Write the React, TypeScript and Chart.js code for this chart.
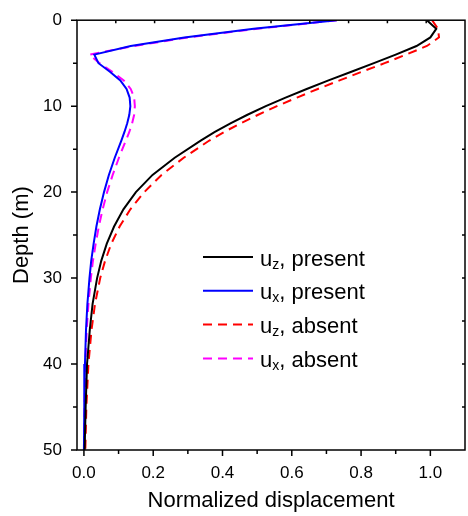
import React, { useEffect, useRef } from 'react';
import { Chart, registerables } from 'chart.js';

Chart.register(...registerables);

const FAMILY = "'Liberation Sans', Arial, Helvetica, sans-serif";

// Depth (m)
const depths = [0, 1, 2, 3, 4, 5, 6, 7, 8, 9, 10, 11, 12, 13, 14, 16, 18, 20, 22, 24, 26, 28, 30, 33, 36, 40, 45, 50];

// Normalized displacement series
const uzPresent = [0.99, 1.017, 1.0, 0.96, 0.9, 0.837, 0.772, 0.706, 0.643, 0.582, 0.525, 0.472, 0.423, 0.378, 0.337, 0.262, 0.198, 0.15, 0.114, 0.087, 0.066, 0.05, 0.038, 0.025, 0.017, 0.009, 0.005, 0.002];
const uxPresent = [0.73, 0.49, 0.29, 0.135, 0.03, 0.042, 0.075, 0.105, 0.123, 0.132, 0.134, 0.131, 0.125, 0.117, 0.108, 0.089, 0.072, 0.058, 0.046, 0.036, 0.028, 0.021, 0.016, 0.01, 0.006, 0.003, 0.001, 0.0];
const uzAbsent = [1.005, 1.022, 1.025, 0.99, 0.93, 0.868, 0.802, 0.738, 0.675, 0.615, 0.557, 0.503, 0.452, 0.405, 0.362, 0.288, 0.224, 0.174, 0.134, 0.103, 0.079, 0.061, 0.047, 0.032, 0.022, 0.013, 0.007, 0.004];
const uxAbsent = [0.73, 0.5, 0.3, 0.145, 0.016, 0.045, 0.082, 0.115, 0.135, 0.145, 0.147, 0.145, 0.139, 0.131, 0.121, 0.101, 0.083, 0.067, 0.054, 0.043, 0.034, 0.026, 0.02, 0.013, 0.008, 0.004, 0.002, 0.001];

const seriesLabels = ['u_z, present', 'u_x, present', 'u_z, absent', 'u_x, absent'];
const seriesColors = ['#000000', '#0000ff', '#ff0000', '#ff00ff'];

// Axes
const xMin = -0.02;
const xMax = 1.1;
const yMin = 0;
const yMax = 50;
const xTickLabels = [0, 0.2, 0.4, 0.6, 0.8, 1.0];
const xMinorTicks = [0.1, 0.3, 0.5, 0.7, 0.9];
const yTickLabels = [0, 10, 20, 30, 40, 50];
const yMinorTicks = [5, 15, 25, 35, 45];
const topTicks = [1, 2, 3, 4, 5, 6, 7, 8, 9];
const rightTicks = [5, 10, 15, 20, 25, 30, 35, 40, 45];

const DASH = [9, 6];

const framePlugin = {
  id: 'frameTicks',
  afterDatasetsDraw(chart: any) {
    const { ctx, chartArea: a, scales } = chart;
    ctx.save();
    ctx.strokeStyle = '#000';
    ctx.lineWidth = 1.5;
    ctx.setLineDash([]);
    ctx.beginPath();
    xTickLabels.forEach((v) => {
      const px = scales.x.getPixelForValue(v);
      ctx.moveTo(px, a.bottom);
      ctx.lineTo(px, a.bottom + 6);
    });
    xMinorTicks.forEach((v) => {
      const px = scales.x.getPixelForValue(v);
      ctx.moveTo(px, a.bottom);
      ctx.lineTo(px, a.bottom + 4);
    });
    yTickLabels.forEach((v) => {
      const py = scales.y.getPixelForValue(v);
      ctx.moveTo(a.left, py);
      ctx.lineTo(a.left - 6, py);
    });
    yMinorTicks.forEach((v) => {
      const py = scales.y.getPixelForValue(v);
      ctx.moveTo(a.left, py);
      ctx.lineTo(a.left - 4, py);
    });
    topTicks.forEach((v) => {
      const px = scales.x2.getPixelForValue(v);
      ctx.moveTo(px, a.top);
      ctx.lineTo(px, a.top + 3);
    });
    rightTicks.forEach((v) => {
      const py = scales.y2.getPixelForValue(v);
      ctx.moveTo(a.right, py);
      ctx.lineTo(a.right - 3, py);
    });
    ctx.stroke();
    ctx.strokeRect(a.left, a.top, a.right - a.left, a.bottom - a.top);
    ctx.restore();
  },
};

const legendPlugin = {
  id: 'subscriptLegend',
  afterDraw(chart: any) {
    const ctx = chart.ctx;
    const x0 = 203;
    const x1 = 253;
    const top = 257;
    const step = 33.8;
    chart.data.datasets.forEach((ds: any, i: number) => {
      const y = top + i * step;
      ctx.save();
      ctx.strokeStyle = ds.borderColor;
      ctx.lineWidth = ds.borderWidth;
      ctx.setLineDash(ds.borderDash || []);
      ctx.beginPath();
      ctx.moveTo(x0, y);
      ctx.lineTo(x1, y);
      ctx.stroke();
      ctx.setLineDash([]);
      const parts = String(ds.label).split('_');
      const main = parts[0];
      const sub = parts[1].charAt(0);
      const tail = parts[1].slice(1);
      ctx.fillStyle = '#000';
      ctx.textBaseline = 'alphabetic';
      ctx.textAlign = 'left';
      const base = y + 8.5;
      let x = 260;
      ctx.font = `22px ${FAMILY}`;
      ctx.fillText(main, x, base);
      x += ctx.measureText(main).width;
      ctx.font = `14px ${FAMILY}`;
      ctx.fillText(sub, x, base + 3);
      x += ctx.measureText(sub).width;
      ctx.font = `22px ${FAMILY}`;
      ctx.fillText(tail, x, base);
      ctx.restore();
    });
  },
};

export default function App() {
  const ref = useRef<HTMLCanvasElement>(null);

  useEffect(() => {
    document.body.style.margin = '0';
    const canvas = ref.current;
    if (!canvas) return;
    const seriesValues = [uzPresent, uxPresent, uzAbsent, uxAbsent];
    const datasets = seriesValues.map((vals, i) => ({
      label: seriesLabels[i],
      data: depths.map((d, j) => ({ x: vals[j], y: d })),
      borderColor: seriesColors[i],
      backgroundColor: seriesColors[i],
      borderWidth: 2,
      borderDash: i >= 2 ? DASH : [],
      showLine: true,
      pointRadius: 0,
      tension: 0,
      fill: false,
    }));

    const chart = new Chart(canvas, {
      type: 'scatter',
      data: { datasets },
      options: {
        responsive: false,
        animation: false,
        layout: { padding: { top: 12, right: 3, left: 0, bottom: 0 } },
        plugins: {
          legend: { display: false },
          tooltip: { enabled: false },
        },
        scales: {
          x: {
            type: 'linear',
            position: 'bottom',
            min: xMin,
            max: xMax,
            afterBuildTicks: (s: any) => {
              s.ticks = xTickLabels.map((v) => ({ value: v }));
            },
            afterFit: (s: any) => {
              s.height = 66;
            },
            grid: { display: true, drawOnChartArea: false, drawTicks: true, tickLength: 5, color: 'rgba(0,0,0,0)' },
            border: { display: false },
            ticks: {
              padding: 8,
              color: '#000',
              autoSkip: false,
              maxRotation: 0,
              font: { family: FAMILY, size: 17 },
              callback: (v: any) => Number(v).toFixed(1),
            },
            title: {
              display: true,
              text: 'Normalized displacement',
              color: '#000',
              font: { family: FAMILY, size: 22 },
              padding: { top: 0, bottom: 2 },
            },
          },
          y: {
            type: 'linear',
            position: 'left',
            reverse: true,
            min: yMin,
            max: yMax,
            afterBuildTicks: (s: any) => {
              s.ticks = yTickLabels.map((v) => ({ value: v }));
            },
            afterFit: (s: any) => {
              s.width = 77;
            },
            grid: { display: true, drawOnChartArea: false, drawTicks: true, tickLength: 5, color: 'rgba(0,0,0,0)' },
            border: { display: false },
            ticks: {
              padding: 10,
              color: '#000',
              autoSkip: false,
              font: { family: FAMILY, size: 17 },
              callback: (v: any) => String(v),
            },
            title: {
              display: true,
              text: 'Depth (m)',
              color: '#000',
              font: { family: FAMILY, size: 22 },
              padding: { top: 9, bottom: 0 },
            },
          },
          x2: { type: 'linear', position: 'top', display: false, min: 0, max: 10 },
          y2: { type: 'linear', position: 'right', display: false, min: yMin, max: yMax, reverse: true },
        },
      },
      plugins: [framePlugin, legendPlugin],
    } as any);

    return () => chart.destroy();
  }, []);

  return <canvas ref={ref} width={468} height={516} style={{ display: 'block' }} />;
}
